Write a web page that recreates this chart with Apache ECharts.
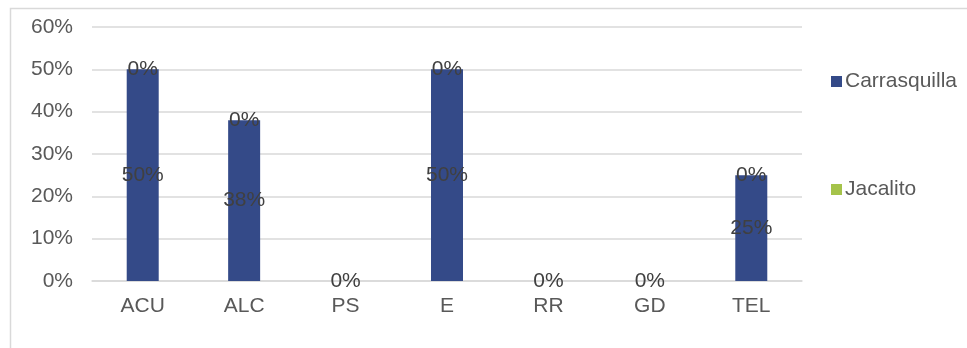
<!DOCTYPE html>
<html lang="es">
<head>
  <meta charset="UTF-8">
  <title>Carrasquilla / Jacalito</title>
  <script src="https://cdn.jsdelivr.net/npm/echarts@6/dist/echarts.min.js"></script>
  <style>
    html, body { margin: 0; padding: 0; background: #fff; }
    #echarts { width: 967px; height: 348px; }
  </style>
</head>
<body>
  <div id="echarts"></div>
</body>
</html>
<script>
  // datos
  const categorias = ['ACU', 'ALC', 'PS', 'E', 'RR', 'GD', 'TEL'];
  const carrasquilla = [50, 38, 0, 50, 0, 0, 25];
  const jacalito = [0, 0, 0, 0, 0, 0, 0];
  const ejeY = { min: 0, max: 60, interval: 10 };

  const fuente = 'Liberation Sans, Arial, sans-serif';
  const gris = '#595959';
  const tam = 21;

  let chart = echarts.init(document.getElementById('echarts'));

  const etiqueta = {
    show: true,
    position: 'inside',
    color: '#404040',
    fontSize: tam,
    fontFamily: fuente
  };

  chart.setOption({
    animation: false,
    graphic: [{
      type: 'rect',
      shape: { x: 10.5, y: 8.5, width: 980, height: 400 },
      style: { fill: 'none', stroke: '#D9D9D9', lineWidth: 1.5 },
      silent: true
    }],
    grid: { left: 92, right: 165, top: 27, bottom: 67 },
    legend: {
      orient: 'vertical',
      left: 831,
      top: 71,
      padding: 0,
      itemGap: 87,
      itemWidth: 11,
      itemHeight: 11,
      icon: 'rect',
      textStyle: { color: gris, fontSize: tam, fontFamily: fuente, padding: [0, 0, 0, -2] },
      data: ['Carrasquilla', 'Jacalito']
    },
    xAxis: {
      type: 'category',
      data: categorias,
      axisLine: { lineStyle: { color: '#D9D9D9', width: 1.5 } },
      axisTick: { show: false },
      axisLabel: { color: gris, fontSize: tam, fontFamily: fuente, margin: 15 }
    },
    yAxis: {
      type: 'value',
      min: ejeY.min,
      max: ejeY.max,
      interval: ejeY.interval,
      axisLine: { show: false },
      axisTick: { show: false },
      splitLine: { lineStyle: { color: '#D9D9D9', width: 1.5 } },
      axisLabel: { color: gris, fontSize: tam, fontFamily: fuente, margin: 19, formatter: '{value}%' }
    },
    series: [
      {
        name: 'Carrasquilla',
        type: 'bar',
        stack: 'total',
        barWidth: 32,
        itemStyle: { color: '#344A88' },
        label: Object.assign({}, etiqueta, { formatter: p => p.value + '%' }),
        data: carrasquilla
      },
      {
        name: 'Jacalito',
        type: 'bar',
        stack: 'total',
        barWidth: 32,
        itemStyle: { color: '#A5C34A' },
        // where both are zero the two labels sit on top of each other; show one
        label: Object.assign({}, etiqueta, {
          formatter: p => carrasquilla[p.dataIndex] === 0 && p.value === 0 ? '' : p.value + '%'
        }),
        data: jacalito
      }
    ]
  });
</script>
